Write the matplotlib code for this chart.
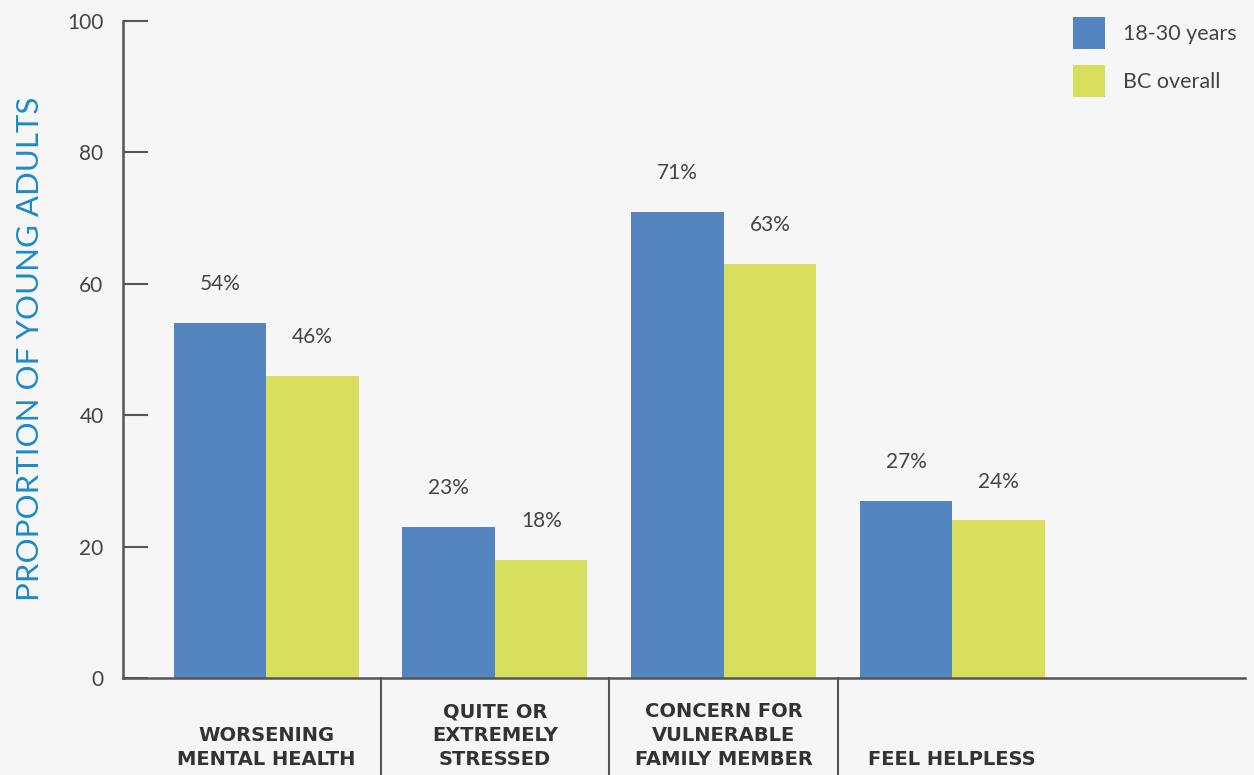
import matplotlib; matplotlib.use('Agg')
import matplotlib.pyplot as plt, numpy as np
import matplotlib.transforms as mtransforms

plt.rcParams.update({'font.family': ['Lato', 'DejaVu Sans'], 'font.size': 15})
BLUE, LIME, BG = '#5585c0', '#d8df5f', '#f6f6f6'
AXIS, TEXT = '#555555', '#444444'

categories = ['WORSENING\nMENTAL HEALTH', 'QUITE OR\nEXTREMELY\nSTRESSED',
              'CONCERN FOR\nVULNERABLE\nFAMILY MEMBER', 'FEEL HELPLESS']
young = [54, 23, 71, 27]
bc_overall = [46, 18, 63, 24]
yticks = [0, 20, 40, 60, 80, 100]

fig = plt.figure(figsize=(12.54, 7.75), dpi=100, facecolor=BG)
ax = fig.add_axes([0.0981, 0.1252, 0.8947, 0.8477], facecolor=BG)

x = np.arange(len(categories))
w = 0.405
b1 = ax.bar(x - w / 2, young, w, color=BLUE, label='18-30 years')
b2 = ax.bar(x + w / 2, bc_overall, w, color=LIME, label='BC overall')

for bars, vals in [(b1, young), (b2, bc_overall)]:
    for r, v in zip(bars, vals):
        ax.text(r.get_x() + r.get_width() / 2, v + 5.9, f'{v}%', ha='center', va='center',
                fontsize=15, color=TEXT)

ax.set_xlim(-0.626, 4.28)
ax.set_ylim(0, 100)
ax.set_yticks(yticks)
ax.set_xticks([])
ax.tick_params(axis='y', direction='in', length=18, width=1.5, color=AXIS,
               labelcolor=TEXT, labelsize=15, pad=14)
for s in ['top', 'right']:
    ax.spines[s].set_visible(False)
for s in ['left', 'bottom']:
    ax.spines[s].set_color(AXIS)
    ax.spines[s].set_linewidth(1.8)

fig.text(30 / 1254, 1 - 349 / 775, 'PROPORTION OF YOUNG ADULTS', rotation=90,
         ha='center', va='center', color='#1e8ac8', fontsize=22.5)

# group separators below the axis, category names under each group
trans = mtransforms.blended_transform_factory(ax.transData, ax.transAxes)
lab_trans = mtransforms.blended_transform_factory(ax.transData, fig.transFigure)
for xs in x[:-1] + 0.5:
    ax.plot([xs, xs], [0, -0.15], transform=trans, color=AXIS, lw=1.5, clip_on=False)
for i, lab in enumerate(categories):
    ax.text(i, 1 - 765 / 775, lab, transform=lab_trans,
            ha='center', va='baseline', fontsize=14, fontweight='bold', color='#333333',
            family='DejaVu Sans', linespacing=1.33)

ax.legend(loc='upper left', bbox_to_anchor=(1073 / 1254, 1 - 17 / 775),
          bbox_transform=fig.transFigure, frameon=False, fontsize=15.5,
          handlelength=1.5, handleheight=1.9, labelspacing=0.75, handletextpad=0.8,
          labelcolor=TEXT, borderaxespad=0, borderpad=0)

fig.savefig('out.png', facecolor=BG)
